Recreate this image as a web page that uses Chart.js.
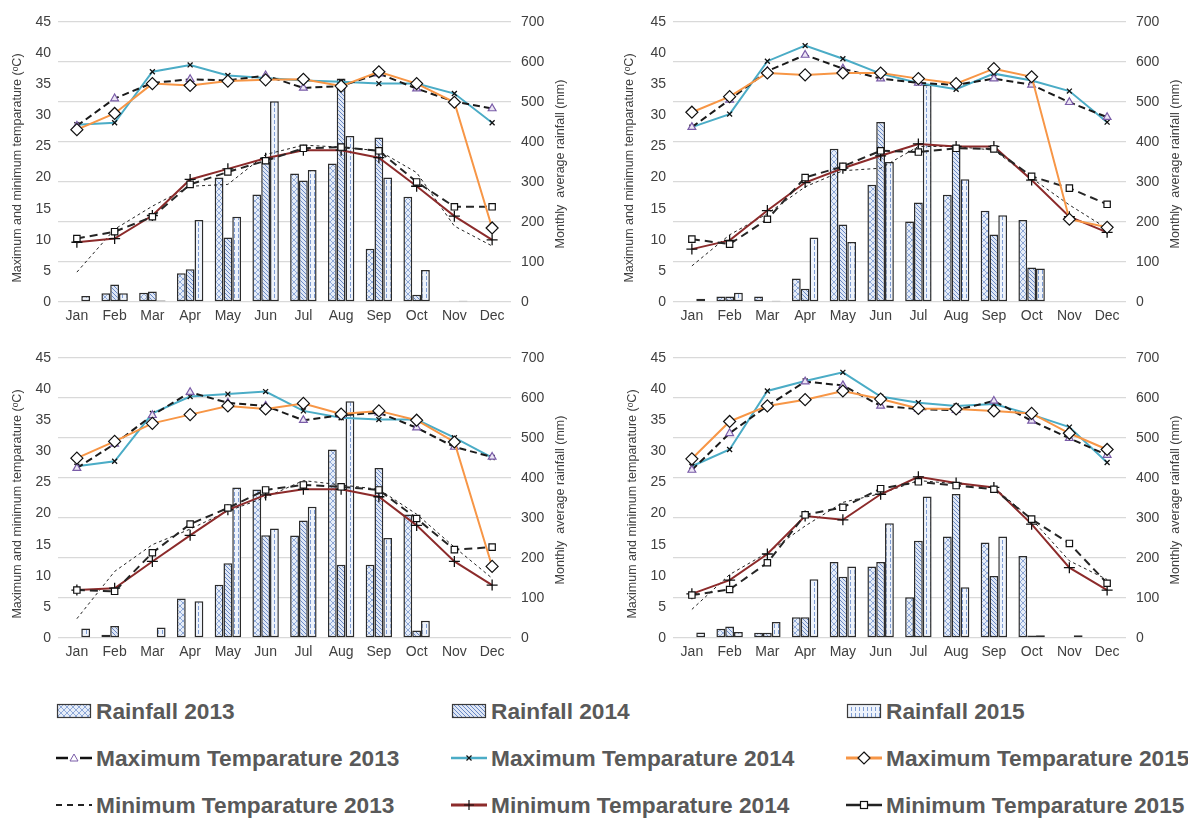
<!DOCTYPE html>
<html>
<head>
<meta charset="utf-8">
<script src="https://cdn.jsdelivr.net/npm/chart.js@4.4.1/dist/chart.umd.min.js"></script>
<style>
  body { margin: 0; background: #fff; font-family: "Liberation Sans", Arial, sans-serif; }
  #wrap { position: relative; width: 1188px; height: 819px; background: #fff; overflow: hidden; }
  .panel { position: absolute; }
  .leg { position: absolute; display: flex; align-items: center; font-weight: bold; font-size: 22.7px; color: #595959; white-space: nowrap; }
  .leg canvas { margin-right: 3px; }
</style>
</head>
<body>
<div id="wrap">
  <canvas class="panel" id="cA" width="580" height="330" style="left:0;top:0"></canvas>
  <canvas class="panel" id="cB" width="588" height="330" style="left:600px;top:0"></canvas>
  <canvas class="panel" id="cC" width="580" height="330" style="left:0;top:336px"></canvas>
  <canvas class="panel" id="cD" width="588" height="330" style="left:600px;top:336px"></canvas>
  <div id="legend"></div>
</div>
<script>
// months on the x axis
const months = ['Jan', 'Feb', 'Mar', 'Apr', 'May', 'Jun', 'Jul', 'Aug', 'Sep', 'Oct', 'Nov', 'Dec'];

// panel A (top left)
const rain13A = [0, 22, 23, 72, 311, 269, 321, 346, 133, 263, 0, 0];
const rain14A = [0, 44, 26, 82, 161, 352, 304, 559, 411, 18, 0, 0];
const rain15A = [15, 22, 4, 205, 213, 502, 330, 415, 311, 80, 3, 0];
const max13A = [28.3, 32.7, 35.2, 35.8, 35.6, 36.4, 34.4, 34.7, 36.7, 34.3, 32.2, 31.1];
const max14A = [28.5, 28.8, 37.0, 38.1, 36.4, 36.0, 35.6, 35.4, 35.1, 35.1, 33.5, 28.8];
const max15A = [27.7, 30.3, 35.1, 34.8, 35.5, 35.7, 35.8, 34.7, 37.0, 35.1, 32.1, 11.9];
const min13A = [4.8, 11.7, 15.4, 18.6, 18.9, 23.7, 25.2, 24.9, 24.3, 20.8, 12.2, 9.0];
const min14A = [9.6, 10.2, 13.9, 19.7, 21.4, 23.1, 24.4, 24.4, 23.2, 18.6, 13.8, 10.0];
const min15A = [10.2, 11.3, 13.7, 18.9, 20.9, 22.7, 24.7, 24.9, 24.3, 19.3, 15.3, 15.3];

// panel B (top right)
const rain13B = [0, 14, 14, 59, 383, 293, 201, 268, 228, 205, 0, 0];
const rain14B = [0, 14, 0, 33, 194, 450, 249, 389, 169, 86, 0, 0];
const rain15B = [8, 23, 3, 161, 150, 350, 543, 307, 217, 84, 0, 0];
const max13B = [28.1, 32.5, 37.1, 39.7, 37.5, 35.9, 35.2, 34.9, 35.9, 34.9, 32.1, 29.7];
const max14B = [28.1, 30.2, 38.7, 41.2, 39.1, 36.7, 35.2, 34.2, 36.7, 35.6, 33.9, 28.9];
const max15B = [30.5, 33.0, 36.8, 36.5, 36.8, 36.8, 35.9, 35.1, 37.5, 36.2, 13.3, 12.0];
const min13B = [5.8, 10.8, 14.2, 18.5, 21.1, 21.5, 25.0, 25.0, 24.4, 19.9, 15.6, 11.8];
const min14B = [8.5, 9.9, 14.7, 19.2, 21.5, 23.5, 25.4, 25.0, 25.0, 19.6, 13.7, 11.2];
const min15B = [10.1, 9.3, 13.3, 20.0, 21.8, 24.3, 24.1, 24.7, 24.6, 20.2, 18.3, 15.7];

// panel C (bottom left)
const rain13C = [0, 8, 2, 99, 133, 371, 256, 471, 183, 309, 0, 0];
const rain14C = [0, 30, 0, 2, 187, 257, 294, 183, 425, 19, 0, 0];
const rain15C = [24, 2, 26, 92, 376, 274, 328, 592, 250, 43, 0, 0];
const max13C = [27.3, 31.2, 35.8, 39.5, 37.8, 37.3, 35.0, 35.8, 36.2, 33.8, 30.7, 29.1];
const max14C = [27.6, 28.4, 36.1, 38.8, 39.2, 39.6, 36.5, 35.4, 35.1, 35.1, 32.2, 29.0];
const max15C = [28.9, 31.6, 34.5, 35.9, 37.3, 36.8, 37.7, 36.0, 36.5, 35.0, 31.5, 11.5];
const min13C = [3.1, 10.7, 15.0, 17.5, 20.4, 22.6, 25.3, 24.6, 23.9, 19.9, 14.6, 9.6];
const min14C = [7.7, 8.0, 12.3, 16.5, 20.6, 23.0, 23.9, 23.9, 22.7, 18.1, 12.3, 8.5];
const min15C = [7.7, 7.5, 13.7, 18.3, 20.9, 23.8, 24.6, 24.3, 23.8, 19.2, 14.2, 14.6];

// panel D (bottom right)
const rain13D = [0, 23, 13, 52, 190, 179, 102, 254, 239, 205, 0, 0];
const rain14D = [0, 29, 13, 52, 153, 190, 243, 360, 155, 6, 0, 0];
const rain15D = [14, 15, 40, 147, 179, 287, 354, 127, 254, 7, 7, 2];
const max13D = [27.0, 32.9, 37.3, 41.2, 40.6, 37.3, 36.8, 36.6, 38.1, 34.9, 32.1, 29.4];
const max14D = [27.6, 30.3, 39.7, 41.3, 42.7, 38.8, 37.8, 37.3, 37.6, 35.9, 33.9, 28.2];
const max15D = [28.8, 34.8, 37.3, 38.3, 39.7, 38.4, 36.9, 36.8, 36.5, 36.1, 32.9, 30.3];
const min13D = [4.6, 10.2, 13.7, 18.0, 21.8, 23.2, 25.3, 24.8, 24.2, 19.1, 12.4, 9.4];
const min14D = [7.1, 9.3, 13.5, 19.6, 19.0, 23.1, 25.9, 24.9, 24.2, 18.3, 11.3, 7.7];
const min15D = [6.9, 7.8, 12.1, 19.8, 21.0, 24.0, 25.1, 24.5, 23.9, 19.1, 15.2, 8.8];

const FONT = '"Liberation Sans", Arial, sans-serif';

// hatch fills for the rainfall bars
function makePattern(kind) {
    const c = document.createElement('canvas');
    c.width = 6; c.height = 6;
    const g = c.getContext('2d');
    g.lineWidth = 1;
    if (kind === 13) {
        g.fillStyle = '#e6edf8'; g.fillRect(0, 0, 6, 6);
        g.strokeStyle = '#8ea8d8';
        g.beginPath(); g.moveTo(0, 0); g.lineTo(6, 6); g.moveTo(6, 0); g.lineTo(0, 6); g.stroke();
    } else if (kind === 14) {
        c.width = 4; c.height = 4;
        g.fillStyle = '#dfe7f5'; g.fillRect(0, 0, 4, 4);
        g.strokeStyle = '#6a89c6';
        g.beginPath(); g.moveTo(-1, -1); g.lineTo(5, 5); g.moveTo(3, -1); g.lineTo(5, 1); g.moveTo(-1, 3); g.lineTo(1, 5); g.stroke();
    } else {
        c.width = 4; c.height = 6;
        g.fillStyle = '#eef3fb'; g.fillRect(0, 0, 4, 6);
        g.fillStyle = '#7f9dd4';
        g.fillRect(2, 0, 1, 4);
    }
    return g.createPattern(c, 'repeat');
}
const pat13 = makePattern(13), pat14 = makePattern(14), pat15 = makePattern(15);

// rotated axis titles, both reading bottom to top
const axisTitles = {
    id: 'axisTitles',
    afterDraw(chart, args, opts) {
        const { ctx, chartArea } = chart;
        const mid = (chartArea.top + chartArea.bottom) / 2;
        ctx.save();
        ctx.fillStyle = '#404040';
        ctx.font = '12.5px ' + FONT;
        ctx.textAlign = 'center';
        ctx.textBaseline = 'middle';
        [[opts.leftX, mid + 6, 'Maximum and minimum temparature (\u1D52C)'],
         [opts.rightX, mid + 2, 'Monthly  average rainfall (mm)']].forEach(function(t) {
            ctx.save();
            ctx.translate(t[0], t[1]);
            ctx.rotate(-Math.PI / 2);
            ctx.fillText(t[2], 0, 0);
            ctx.restore();
        });
        ctx.restore();
    }
};

function barSet(label, data, fill) {
    return { type: 'bar', label: label, data: data, yAxisID: 'y2', backgroundColor: fill,
             borderColor: '#2b2b2b', borderWidth: 1.5, borderSkipped: false, order: 10,
             categoryPercentage: 0.7, barPercentage: 1.0 };
}

function drawPanel(id, d, leftW, rightW, leftX, rightX) {
    const ctx = document.getElementById(id).getContext('2d');
    new Chart(ctx, {
        type: 'bar',
        data: {
            labels: months,
            datasets: [
                { type: 'line', label: 'Maximum Temparature 2013', data: d.max13, yAxisID: 'y', order: 2,
                  borderColor: '#1a1a1a', borderWidth: 2, borderDash: [7, 4], pointStyle: 'triangle',
                  pointRadius: 4.5, pointBorderColor: '#7a5ca8', pointBackgroundColor: '#ece6f4', pointBorderWidth: 1.2 },
                { type: 'line', label: 'Maximum Temparature 2014', data: d.max14, yAxisID: 'y', order: 3,
                  borderColor: '#4bacc6', borderWidth: 2, pointStyle: 'crossRot',
                  pointRadius: 3.5, pointBorderColor: '#111', pointBorderWidth: 1.3 },
                { type: 'line', label: 'Maximum Temparature 2015', data: d.max15, yAxisID: 'y', order: 1,
                  borderColor: '#f79646', borderWidth: 2, pointStyle: 'rectRot',
                  pointRadius: 6, pointBorderColor: '#111', pointBackgroundColor: '#fff', pointBorderWidth: 1.2 },
                { type: 'line', label: 'Minimum Temparature 2013', data: d.min13, yAxisID: 'y', order: 6,
                  borderColor: '#222', borderWidth: 1, borderDash: [3, 3], pointRadius: 0 },
                { type: 'line', label: 'Minimum Temparature 2014', data: d.min14, yAxisID: 'y', order: 5,
                  borderColor: '#8c2b2b', borderWidth: 2, pointStyle: 'cross',
                  pointRadius: 5.5, pointBorderColor: '#111', pointBorderWidth: 1.3 },
                { type: 'line', label: 'Minimum Temparature 2015', data: d.min15, yAxisID: 'y', order: 4,
                  borderColor: '#262626', borderWidth: 2, borderDash: [8, 5], pointStyle: 'rect',
                  pointRadius: 4.5, pointBorderColor: '#111', pointBackgroundColor: '#fff', pointBorderWidth: 1.2 },
                barSet('Rainfall 2013', d.rain13, pat13),
                barSet('Rainfall 2014', d.rain14, pat14),
                barSet('Rainfall 2015', d.rain15, pat15)
            ]
        },
        options: {
            responsive: false,
            animation: false,
            layout: { padding: { top: 22, bottom: 0, left: 0, right: 0 } },
            plugins: { legend: { display: false }, tooltip: { enabled: false },
                       axisTitles: { leftX: leftX, rightX: rightX } },
            elements: { line: { tension: 0 } },
            scales: {
                x: {
                    grid: { display: false, drawTicks: false }, border: { display: false },
                    ticks: { color: '#404040', font: { size: 14, family: FONT }, padding: 6, maxRotation: 0 },
                    afterFit: function(s) { s.height = 28; }
                },
                y: {
                    position: 'left', min: 0, max: 45,
                    grid: { display: false, drawTicks: false }, border: { display: false },
                    ticks: { stepSize: 5, color: '#404040', font: { size: 14, family: FONT }, padding: 7 },
                    afterFit: function(s) { s.width = leftW; }
                },
                y2: {
                    position: 'right', min: 0, max: 700,
                    grid: { color: '#d9d9d9', lineWidth: 1.3, drawTicks: false }, border: { display: false },
                    ticks: { stepSize: 100, color: '#404040', font: { size: 14, family: FONT }, padding: 10 },
                    afterFit: function(s) { s.width = rightW; }
                }
            }
        },
        plugins: [axisTitles]
    });
}

drawPanel('cA', { rain13: rain13A, rain14: rain14A, rain15: rain15A, max13: max13A, max14: max14A, max15: max15A,
                  min13: min13A, min14: min14A, min15: min15A }, 58, 69, 18, 561);
drawPanel('cB', { rain13: rain13B, rain14: rain14B, rain15: rain15B, max13: max13B, max14: max14B, max15: max15B,
                  min13: min13B, min14: min14B, min15: min15B }, 73, 62, 30, 576);
drawPanel('cC', { rain13: rain13C, rain14: rain14C, rain15: rain15C, max13: max13C, max14: max14C, max15: max15C,
                  min13: min13C, min14: min14C, min15: min15C }, 58, 69, 18, 561);
drawPanel('cD', { rain13: rain13D, rain14: rain14D, rain15: rain15D, max13: max13D, max14: max14D, max15: max15D,
                  min13: min13D, min14: min14D, min15: min15D }, 73, 62, 33, 576);

// shared legend under the four panels
const legendItems = [
    ['bar', pat13, 'Rainfall 2013'], ['bar', pat14, 'Rainfall 2014'], ['bar', pat15, 'Rainfall 2015'],
    ['max13', null, 'Maximum Temparature 2013'], ['max14', null, 'Maximum Temparature 2014'], ['max15', null, 'Maximum Temparature 2015'],
    ['min13', null, 'Minimum Temparature 2013'], ['min14', null, 'Minimum Temparature 2014'], ['min15', null, 'Minimum Temparature 2015']
];
const legX = [55, 450, 845];
const legY = [711, 758, 805];

function drawSwatch(c, kind, fill) {
    const g = c.getContext('2d');
    const w = c.width, h = c.height, m = h / 2;
    if (kind === 'bar') {
        g.fillStyle = fill; g.fillRect(2, 3, w - 4, h - 6);
        g.strokeStyle = '#3a3a3a'; g.lineWidth = 1.2; g.strokeRect(2.5, 3.5, w - 5, h - 7);
        return;
    }
    function seg(col, dash) {
        g.strokeStyle = col; g.setLineDash(dash || []);
        g.beginPath(); g.moveTo(1, m); g.lineTo(w - 1, m); g.stroke(); g.setLineDash([]);
    }
    if (kind === 'max13') { g.lineWidth = 2.5; seg('#111'); g.fillStyle = '#fff'; g.fillRect(13, m - 6, 12, 12);
        g.strokeStyle = '#7a5ca8'; g.lineWidth = 1; g.beginPath(); g.moveTo(19, m - 4); g.lineTo(23, m + 3); g.lineTo(15, m + 3); g.closePath(); g.stroke(); }
    if (kind === 'max14') { g.lineWidth = 2.5; seg('#4bacc6'); g.strokeStyle = '#111'; g.lineWidth = 1.2; g.beginPath();
        g.moveTo(16.5, m - 2.5); g.lineTo(21.5, m + 2.5); g.moveTo(21.5, m - 2.5); g.lineTo(16.5, m + 2.5); g.stroke(); }
    if (kind === 'max15') { g.lineWidth = 3; seg('#f79646'); g.fillStyle = '#fff'; g.strokeStyle = '#111'; g.lineWidth = 1.2; g.beginPath();
        g.moveTo(19, m - 6); g.lineTo(25, m); g.lineTo(19, m + 6); g.lineTo(13, m); g.closePath(); g.fill(); g.stroke(); }
    if (kind === 'min13') { g.lineWidth = 2; seg('#222', [6, 5]); }
    if (kind === 'min14') { g.lineWidth = 3; seg('#8c2b2b'); g.strokeStyle = '#111'; g.lineWidth = 1.2; g.beginPath();
        g.moveTo(19, m - 5); g.lineTo(19, m + 5); g.moveTo(14, m); g.lineTo(24, m); g.stroke(); }
    if (kind === 'min15') { g.lineWidth = 2.5; seg('#222'); g.fillStyle = '#fff'; g.strokeStyle = '#111'; g.lineWidth = 1.2;
        g.fillRect(15, m - 4, 8, 8); g.strokeRect(15.5, m - 3.5, 7, 7); }
}

const legend = document.getElementById('legend');
legendItems.forEach(function(it, i) {
    const div = document.createElement('div');
    div.className = 'leg';
    div.style.left = legX[i % 3] + 'px';
    div.style.top = (legY[Math.floor(i / 3)] - 14) + 'px';
    div.style.height = '28px';
    const c = document.createElement('canvas');
    c.width = 38; c.height = 20;
    drawSwatch(c, it[0], it[1]);
    div.appendChild(c);
    const s = document.createElement('span');
    s.textContent = it[2];
    div.appendChild(s);
    legend.appendChild(div);
});
</script>
</body>
</html>
